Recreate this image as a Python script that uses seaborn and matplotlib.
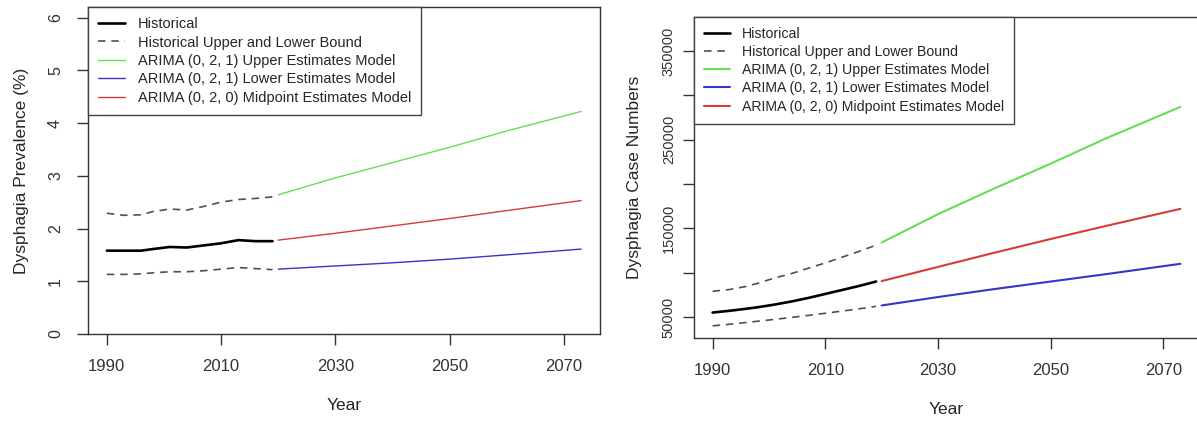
import pandas as pd
import matplotlib
matplotlib.use("Agg")
import matplotlib.pyplot as plt
import seaborn as sns

# historical years and forecast years
hist_years = [1990, 1993, 1996, 1998, 2001, 2004, 2007, 2010, 2013, 2016, 2019]
fc_years = [2020, 2030, 2040, 2050, 2060, 2073]

# prevalence (%)
prev_hist = [1.58, 1.58, 1.58, 1.61, 1.65, 1.64, 1.68, 1.72, 1.78, 1.76, 1.76]
prev_hist_up = [2.29, 2.25, 2.26, 2.32, 2.37, 2.35, 2.42, 2.50, 2.55, 2.57, 2.60]
prev_hist_lo = [1.13, 1.13, 1.14, 1.16, 1.18, 1.18, 1.20, 1.23, 1.26, 1.24, 1.22]
prev_upper = [2.64, 2.96, 3.25, 3.54, 3.85, 4.22]
prev_lower = [1.23, 1.29, 1.35, 1.42, 1.50, 1.61]
prev_mid = [1.78, 1.91, 2.05, 2.19, 2.34, 2.53]

# case numbers
cases_hist = [55000, 57000, 59300, 61000, 64000, 67500, 71500, 76000, 80500, 85000, 90000]
cases_hist_up = [79000, 81000, 84500, 88000, 94000, 99000, 105000, 111000, 117500, 124000, 131000]
cases_hist_lo = [40000, 41800, 43800, 45200, 47300, 49500, 51800, 54200, 56700, 59200, 62000]
cases_upper = [134000, 166000, 195000, 223000, 252000, 287000]
cases_lower = [63000, 72500, 81500, 90000, 98500, 110000]
cases_mid = [90500, 106500, 122500, 138000, 153000, 172000]

legend_labels = ["Historical", "Historical Upper and Lower Bound",
                 "ARIMA (0, 2, 1) Upper Estimates Model",
                 "ARIMA (0, 2, 1) Lower Estimates Model",
                 "ARIMA (0, 2, 0) Midpoint Estimates Model"]

GREEN, BLUE, RED = "#66dd55", "#3535c8", "#d83a3a"
AXC = "#333333"

sns.set_style("ticks")
plt.rcParams["font.family"] = ["Liberation Sans", "DejaVu Sans"]
plt.rcParams["axes.edgecolor"] = AXC
plt.rcParams["axes.linewidth"] = 1.0
plt.rcParams["xtick.color"] = AXC
plt.rcParams["ytick.color"] = AXC

fig = plt.figure(figsize=(11.97, 4.24), dpi=100)
ax1 = fig.add_axes([88 / 1197, 90 / 424, 512 / 1197, 327 / 424])
ax2 = fig.add_axes([694 / 1197, 86 / 424, 505 / 1197, 321.3 / 424])


def draw(ax, hist, up, lo, upper, lower, mid, fc_lw, leg_size):
    hdf = pd.DataFrame({"year": hist_years, "hist": hist, "up": up, "lo": lo})
    fdf = pd.DataFrame({"year": fc_years, "upper": upper, "lower": lower, "mid": mid})
    sns.lineplot(data=hdf, x="year", y="hist", ax=ax, color="black", lw=1.9,
                 label=legend_labels[0])
    sns.lineplot(data=hdf, x="year", y="up", ax=ax, color="#505050", lw=1.2,
                 label=legend_labels[1])
    sns.lineplot(data=hdf, x="year", y="lo", ax=ax, color="#505050", lw=1.2)
    sns.lineplot(data=fdf, x="year", y="upper", ax=ax, color=GREEN, lw=fc_lw,
                 label=legend_labels[2])
    sns.lineplot(data=fdf, x="year", y="lower", ax=ax, color=BLUE, lw=fc_lw,
                 label=legend_labels[3])
    sns.lineplot(data=fdf, x="year", y="mid", ax=ax, color=RED, lw=fc_lw,
                 label=legend_labels[4])
    for ln in ax.lines[1:3]:
        ln.set_dashes([4.5, 3.5])
    ax.set_xlim(1986.7, 2076.3)
    ax.set_xticks([1990, 2010, 2030, 2050, 2070])
    ax.tick_params(axis="x", labelsize=12, length=8, width=1.0, pad=10)
    ax.set_xlabel("Year", fontsize=12.5, labelpad=17)
    for s in ax.spines.values():
        s.set_visible(True)
        s.set_color(AXC)
    leg = ax.legend(loc="upper left", borderaxespad=0, fontsize=leg_size,
                    frameon=True, fancybox=False, framealpha=1,
                    edgecolor="#444444", handlelength=1.85, labelspacing=0.3,
                    borderpad=0.7, handletextpad=0.85)
    leg.get_frame().set_linewidth(1.0)
    leg.legend_handles[1].set_dashes([4.5, 3.5])


draw(ax1, prev_hist, prev_hist_up, prev_hist_lo, prev_upper, prev_lower, prev_mid, 1.0, 10.5)
ax1.set_ylim(0, 6.2)
ax1.set_yticks([0, 1, 2, 3, 4, 5, 6])
ax1.tick_params(axis="y", labelsize=11.5, length=8, width=1.0, pad=10, labelrotation=90)
for t in ax1.get_yticklabels():
    t.set_va("center")
ax1.set_ylabel("Dysphagia Prevalence (%)", fontsize=12.5, labelpad=14)

draw(ax2, cases_hist, cases_hist_up, cases_hist_lo, cases_upper, cases_lower, cases_mid, 1.5, 10.2)
ax2.set_ylim(26300, 388700)
ax2.set_yticks([50000, 100000, 150000, 200000, 250000, 300000, 350000])
ax2.set_yticklabels(["50000", "", "150000", "", "250000", "", "350000"])
ax2.tick_params(axis="y", labelsize=10.5, length=8, width=1.0, pad=5, labelrotation=90)
for t in ax2.get_yticklabels():
    t.set_va("center")
ax2.set_ylabel("Dysphagia Case Numbers", fontsize=12.5, labelpad=14)

fig.savefig("out.png", dpi=100)
